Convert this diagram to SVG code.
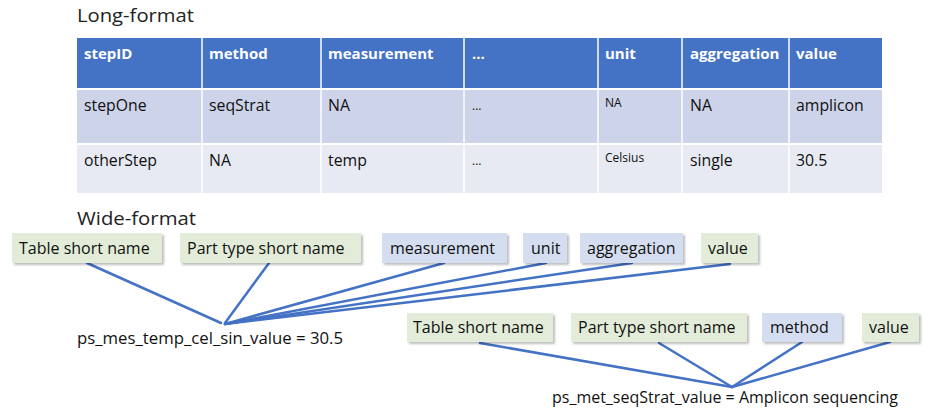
<svg xmlns="http://www.w3.org/2000/svg" width="934" height="412" viewBox="0 0 934 412">
<defs>
<filter id="sh" x="-10%" y="-20%" width="130%" height="160%">
<feDropShadow dx="2" dy="2" stdDeviation="1.2" flood-color="#000" flood-opacity="0.25"/>
</filter>
</defs>
<style>
.title{font-family:"Open Sans","Liberation Sans",sans-serif;font-size:18.5px;fill:#222}
.hd{font-family:"Open Sans","Liberation Sans",sans-serif;font-size:15px;font-weight:bold;fill:#fff}
.cell{font-family:"Open Sans","Liberation Sans",sans-serif;font-size:15.8px;fill:#111}
.small{font-family:"Open Sans","Liberation Sans",sans-serif;font-size:12px;fill:#111}
.lbl{font-family:"Open Sans","Liberation Sans",sans-serif;font-size:16px;fill:#111}
.green{fill:#e2ecd8}
.blue{fill:#d5def0}
.conn line{stroke:#4472c4;stroke-width:2.5;stroke-linecap:round}
</style>
<rect width="934" height="412" fill="#fff"/>
<text class="title" x="77" y="22" textLength="117" lengthAdjust="spacingAndGlyphs">Long-format</text>
<g id="table">
<rect x="77" y="38" width="805" height="155" fill="#fff"/>
<rect x="77" y="38" width="805" height="50" fill="#4472c4"/>
<rect x="77" y="90" width="805" height="53" fill="#cdd3e8"/>
<rect x="77" y="145" width="805" height="48" fill="#e7eaf3"/>
<g stroke="#fff" stroke-width="1.5">
<line x1="202" y1="38" x2="202" y2="193"/>
<line x1="321" y1="38" x2="321" y2="193"/>
<line x1="464" y1="38" x2="464" y2="193"/>
<line x1="598" y1="38" x2="598" y2="193"/>
<line x1="682" y1="38" x2="682" y2="193"/>
<line x1="789" y1="38" x2="789" y2="193"/>
</g>
<text class="hd" x="84" y="59">stepID</text>
<text class="hd" x="209" y="59">method</text>
<text class="hd" x="328" y="59">measurement</text>
<text class="hd" x="472" y="59">...</text>
<text class="hd" x="605" y="59">unit</text>
<text class="hd" x="690" y="59">aggregation</text>
<text class="hd" x="796" y="59">value</text>
<text class="cell" x="84" y="111">stepOne</text>
<text class="cell" x="209" y="111">seqStrat</text>
<text class="cell" x="328" y="111">NA</text>
<text class="small" x="472" y="110">...</text>
<text class="small" x="605" y="107">NA</text>
<text class="cell" x="690" y="111">NA</text>
<text class="cell" x="796" y="111">amplicon</text>
<text class="cell" x="84" y="166">otherStep</text>
<text class="cell" x="209" y="166">NA</text>
<text class="cell" x="328" y="166">temp</text>
<text class="small" x="472" y="165">...</text>
<text class="small" x="605" y="162">Celsius</text>
<text class="cell" x="690" y="166">single</text>
<text class="cell" x="796" y="166">30.5</text>
</g>
<text class="title" x="77" y="225" textLength="119" lengthAdjust="spacingAndGlyphs">Wide-format</text>
<g class="conn" id="connectors">
<line x1="87" y1="263" x2="221" y2="323"/>
<line x1="269" y1="263" x2="225" y2="323"/>
<line x1="444" y1="263" x2="225" y2="324"/>
<line x1="546" y1="263" x2="225" y2="324"/>
<line x1="632" y1="263" x2="225" y2="324"/>
<line x1="730" y1="264" x2="225" y2="324"/>
<line x1="480" y1="343" x2="732" y2="387"/>
<line x1="659" y1="343" x2="732" y2="387"/>
<line x1="802" y1="342" x2="732" y2="387"/>
<line x1="890" y1="342" x2="732" y2="387"/>
</g>
<g id="w-table"><rect class="green" x="12" y="233" width="150" height="30" filter="url(#sh)"/><text class="lbl" x="19" y="254">Table short name</text></g>
<g id="w-part"><rect class="green" x="180" y="233" width="181" height="30" filter="url(#sh)"/><text class="lbl" x="187" y="254">Part type short name</text></g>
<g id="w-measurement"><rect class="blue" x="382" y="233" width="125" height="30" filter="url(#sh)"/><text class="lbl" x="390" y="254">measurement</text></g>
<g id="w-unit"><rect class="blue" x="523" y="233" width="44" height="30" filter="url(#sh)"/><text class="lbl" x="531" y="254">unit</text></g>
<g id="w-aggregation"><rect class="blue" x="580" y="233" width="103" height="30" filter="url(#sh)"/><text class="lbl" x="587" y="254">aggregation</text></g>
<g id="w-value"><rect class="green" x="701" y="233" width="57" height="30" filter="url(#sh)"/><text class="lbl" x="708" y="254">value</text></g>
<text class="lbl" x="77" y="344" textLength="266" lengthAdjust="spacingAndGlyphs">ps_mes_temp_cel_sin_value = 30.5</text>
<g id="m-table"><rect class="green" x="407" y="313" width="146" height="29" filter="url(#sh)"/><text class="lbl" x="413" y="333">Table short name</text></g>
<g id="m-part"><rect class="green" x="571" y="313" width="176" height="29" filter="url(#sh)"/><text class="lbl" x="578" y="333">Part type short name</text></g>
<g id="m-method"><rect class="blue" x="762" y="313" width="80" height="29" filter="url(#sh)"/><text class="lbl" x="770" y="333">method</text></g>
<g id="m-value"><rect class="green" x="862" y="313" width="57" height="29" filter="url(#sh)"/><text class="lbl" x="869" y="333">value</text></g>
<text class="lbl" x="552" y="403" textLength="346" lengthAdjust="spacingAndGlyphs">ps_met_seqStrat_value = Amplicon sequencing</text>
</svg>
